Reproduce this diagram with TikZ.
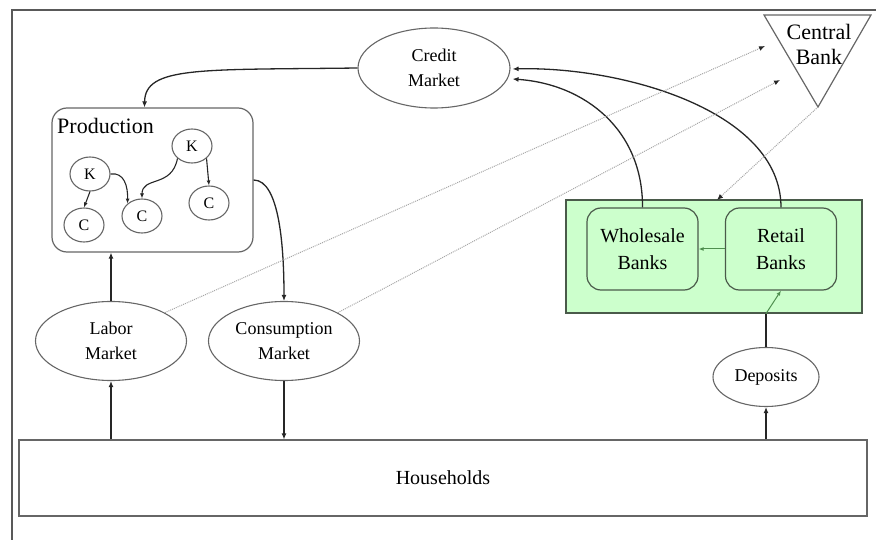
\documentclass[tikz,border=0pt]{standalone}
\usepackage{fontspec}
\setmainfont{Liberation Serif}
\usetikzlibrary{shapes.geometric,arrows.meta,calc}
\definecolor{bgreen}{HTML}{CCFFCC}
\definecolor{bedge}{HTML}{4A5A4A}
\definecolor{garrow}{HTML}{4F8F4F}
\begin{document}
\begin{tikzpicture}[x=1pt,y=-1pt,
  ell/.style={ellipse,draw=black!60,line width=1.1pt,fill=white,inner sep=0pt,align=center,font=\fontsize{18}{25}\selectfont},
  small/.style={ellipse,draw=black!60,line width=1.1pt,fill=white,inner sep=0pt,minimum width=40pt,minimum height=34pt,font=\fontsize{16}{18}\selectfont},
  bankbox/.style={draw=bedge,fill=bgreen,line width=1.2pt,rounded corners=14pt,inner sep=0pt,minimum width=111pt,minimum height=82pt,align=center,font=\fontsize{20}{27}\selectfont},
  arr/.style={draw=black!85,line width=1.3pt,-{Latex[length=6pt,width=5pt]}},
  thinarr/.style={draw=black!85,line width=1.1pt,-{Latex[length=5pt,width=4pt]}},
  garr/.style={draw=garrow,line width=1pt,-{Latex[length=5pt,width=4pt]}},
  dotarr/.style={draw=black!35,line width=1pt,densely dotted,-{Latex[length=6pt,width=5pt,color=black!85]}}
]
\useasboundingbox (0,0) rectangle (876,540);
% outer frame (top and left only visible)
\draw[black!65,line width=1.2pt] (12,540) -- (12,10) -- (876,10);

% Households
\node[draw=black!60,line width=1.1pt,minimum width=848pt,minimum height=76pt,inner sep=0pt,font=\fontsize{20}{24}\selectfont] (hh) at (443,478) {Households};

% Markets
\node[ell,minimum width=152pt,minimum height=80pt] (cm) at (434,68) {Credit\\Market};
\node[ell,minimum width=151pt,minimum height=79pt] (lm) at (111,341) {Labor\\Market};
\node[ell,minimum width=151pt,minimum height=79pt] (csm) at (284,341) {Consumption\\Market};
\node[ell,minimum width=106pt,minimum height=59pt] (dep) at (766,377) {Deposits};

% Production box
\node[draw=black!60,line width=1.2pt,rounded corners=15pt,minimum width=201pt,minimum height=144pt,inner sep=0pt] (prod) at (152.5,180) {};
\node[anchor=base west,inner sep=0pt,font=\fontsize{22}{24}\selectfont] (prodlbl) at (57,134) {Production};
\node[small] (k1) at (90,174) {K};
\node[small] (c1) at (84,225) {C};
\node[small] (c2) at (142,216) {C};
\node[small] (k2) at (192,146) {K};
\node[small] (c3) at (209,203) {C};
\draw[thinarr] (k1.south) -- (c1.north);
\draw[thinarr] (k1.east) .. controls (124,172) and (128,186) .. (c2.north west);
\draw[thinarr] (k2.south west) .. controls (172,188) and (142,176) .. (c2.north);
\draw[thinarr] (k2.south east) -- (c3.north);

% Central bank
\coordinate (cbl) at (764,15);
\coordinate (cbr) at (871,15);
\coordinate (cbb) at (818,107);
\draw[black!60,line width=1.2pt] (cbl) -- (cbr) -- (cbb) -- cycle;
\node[align=center,inner sep=0pt,font=\fontsize{22}{25}\selectfont] (cb) at (819,44) {Central\\Bank};

% Banking sector
\node[draw=bedge,fill=bgreen,line width=1.2pt,minimum width=296pt,minimum height=113pt,inner sep=0pt] (bs) at (714,256.5) {};
\node[bankbox] (wb) at (642.5,249) {Wholesale\\Banks};
\node[bankbox] (rb) at (781,249) {Retail\\Banks};
\draw[garr] (rb.west) -- (wb.east);

% Flows
\draw[arr] (cm.west) .. controls (200,70) and (145,66) .. ([xshift=-8pt]prod.north);
\draw[arr] (prod.east) .. controls (280,180) and (284,250) .. (csm.north);
\draw[arr] (lm.north) -- (prod.south -| lm.north);
\draw[arr] (hh.north -| lm.south) -- (lm.south);
\draw[arr] (csm.south) -- (hh.north -| csm.south);
\draw[arr] (hh.north -| dep.south) -- (dep.south);
\coordinate (bsin) at (bs.south -| dep.north);
\draw[black!85,line width=1.3pt] (dep.north) -- (bsin);
\draw[garr] (bsin) -- (rb.south);
\draw[arr] (wb.north) .. controls (643,130) and (585,84) .. ($(cm.east)+(2,11)$);
\draw[arr] (rb.north) .. controls (781,110) and (620,66) .. ($(cm.east)+(2,1)$);

% dotted policy links
\coordinate (cbA) at (765,46);
\coordinate (cbB) at (780,80);
\coordinate (bstop) at (717,200);
\draw[dotarr] (lm.north east) -- (cbA);
\draw[dotarr] (csm.north east) -- (cbB);
\draw[dotarr] (cbb) -- (bstop);
\end{tikzpicture}
\end{document}
